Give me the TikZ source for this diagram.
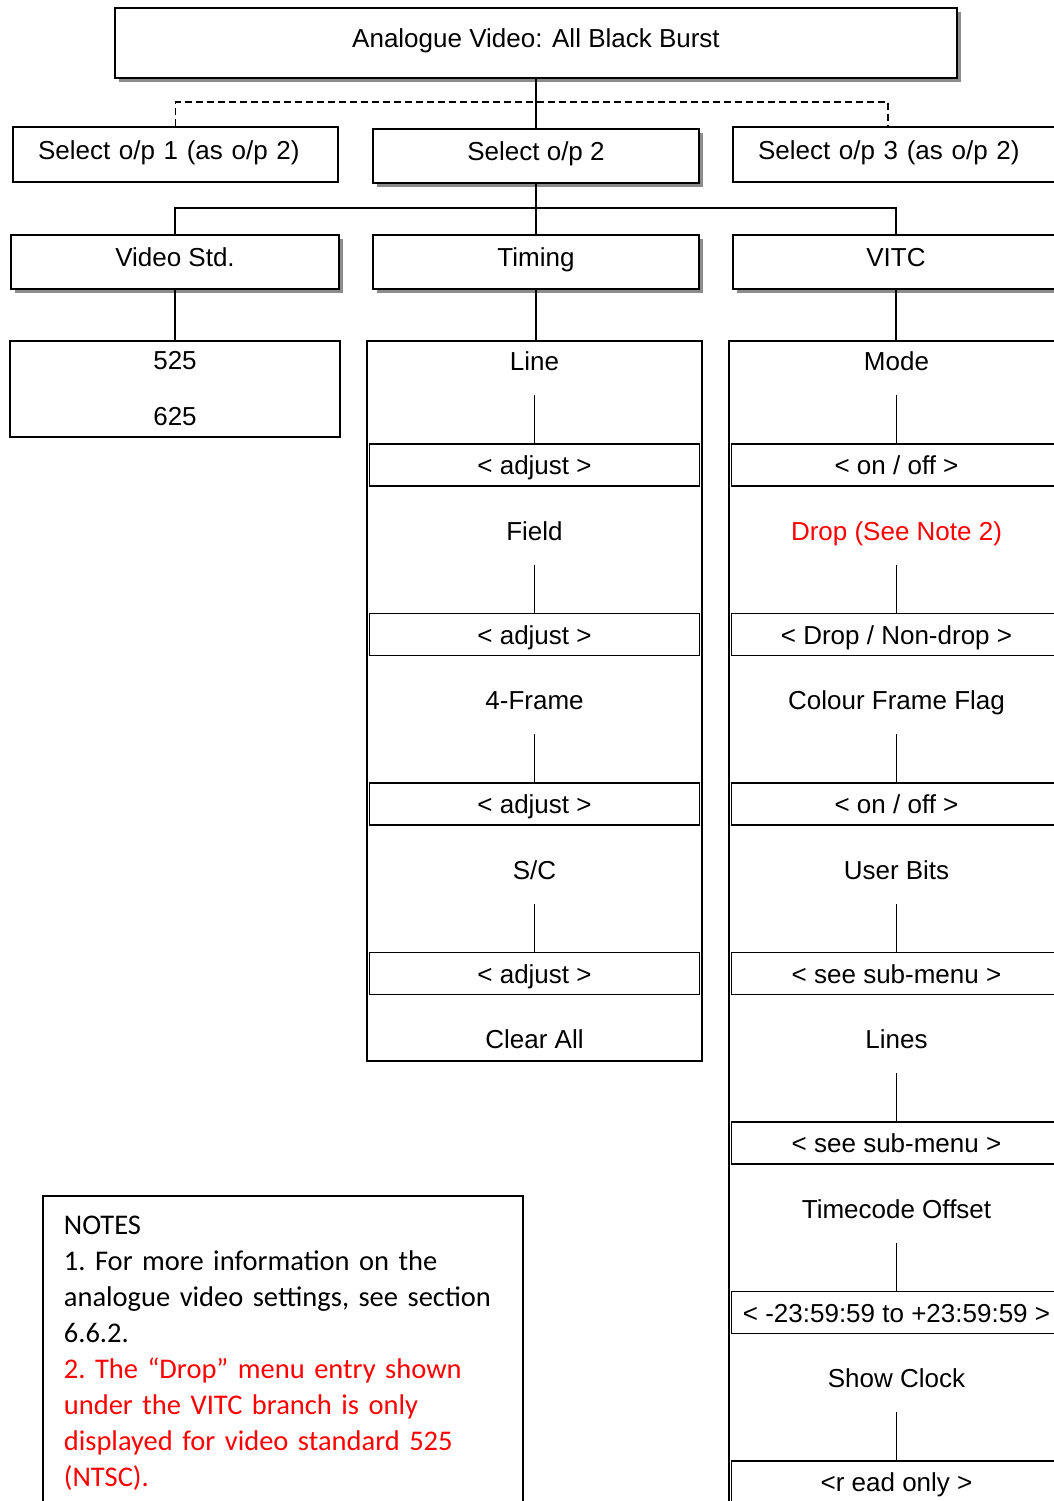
\documentclass[tikz,border=0pt]{standalone}
\usepackage{fontspec}
\setmainfont{Liberation Sans}
\newfontfamily\notefont{Carlito}
\usepackage{tikz}
\usetikzlibrary{shapes,arrows,positioning,calc,shadows}

\begin{document}
\begin{tikzpicture}[x=1pt, y=1pt, node distance=169.5pt, every node/.style={align=center, font=\fontsize{26}{31}\selectfont}]
        % node styles
        \tikzstyle{menubox} = [rectangle, minimum width=325pt, minimum height=55pt, inner sep=0pt, draw=black, line width=1.8pt, fill=white]
        \tikzstyle{raised} = [text height=19pt, text depth=10pt]
        \tikzstyle{shadowbox} = [menubox, raised, drop shadow={shadow xshift=4pt, shadow yshift=-4pt, fill=black!45, opacity=1}]
        \tikzstyle{sidebox} = [menubox, raised, text width=275pt, inner xsep=25pt, align=left]
        \tikzstyle{column} = [rectangle, minimum width=335pt, inner sep=0pt, draw=black, line width=1.8pt]
        \tikzstyle{item} = [minimum height=68pt, inner sep=0pt, text height=19pt, text depth=0pt]
        \tikzstyle{setbox} = [rectangle, minimum width=330pt, minimum height=42pt, inner sep=0pt, text height=25pt, text depth=5.5pt, draw=black, line width=1.8pt]
        \tikzstyle{link} = [line width=1.5pt]

        \useasboundingbox (0,0) rectangle (1054,-1501);
        \clip (0,0) rectangle (1054,-1501);

        % top levels
        \node (title) [shadowbox, minimum width=842pt, minimum height=70pt] at (536,-43) {Analogue Video: All Black Burst};
        \node (sel1) [sidebox] at (175.5,-154.5) {Select o/p 1 (as o/p 2)};
        \node (sel2) [shadowbox, minimum width=326pt, minimum height=54pt] at (536,-156) {Select o/p 2};
        \node (sel3) [sidebox] at (895.5,-154.5) {Select o/p 3 (as o/p 2)};
        \node (vstd) [shadowbox, minimum width=328pt, minimum height=54pt] at (175,-262) {Video Std.};
        \node (timing) [shadowbox, minimum width=326pt, minimum height=54pt] at (536,-262) {Timing};
        \node (vitc) [shadowbox, minimum width=326pt, minimum height=54pt] at (896,-262) {VITC};

        % option lists
        \node (std) [menubox, minimum width=330pt, minimum height=96pt, fill=none] at (175,-389) {525\\[25pt]625};
        \node (tcol) [column, minimum height=720pt] at (534.5,-701) {};
        \node (vcol) [column, minimum height=1190pt] at (896.5,-936) {};

        % timing menu
        \node (line) [item] at (534.5,-361) {Line};
        \node (ladj) [setbox, node distance=104pt, below of=line] {< adjust >};
        \node (field) [item, below of=line] {Field};
        \node (fadj) [setbox, node distance=104pt, below of=field] {< adjust >};
        \node (frame) [item, below of=field] {4-Frame};
        \node (fradj) [setbox, node distance=104pt, below of=frame] {< adjust >};
        \node (sc) [item, below of=frame] {S/C};
        \node (scadj) [setbox, node distance=104pt, below of=sc] {< adjust >};
        \node (clear) [item, below of=sc] {Clear All};

        % VITC menu
        \node (mode) [item] at (896.5,-361) {Mode};
        \node (modeset) [setbox, node distance=104pt, below of=mode] {< on / off >};
        \node (drop) [item, below of=mode] {\color{red}Drop (See Note 2)};
        \node (dropset) [setbox, node distance=104pt, below of=drop] {< Drop / Non-drop >};
        \node (cff) [item, below of=drop] {Colour Frame Flag};
        \node (cffset) [setbox, node distance=104pt, below of=cff] {< on / off >};
        \node (ubits) [item, below of=cff] {User Bits};
        \node (ubitsset) [setbox, node distance=104pt, below of=ubits] {< see sub-menu >};
        \node (lines) [item, below of=ubits] {Lines};
        \node (linesset) [setbox, node distance=104pt, below of=lines] {< see sub-menu >};
        \node (offset) [item, below of=lines] {Timecode Offset};
        \node (offsetset) [setbox, node distance=104pt, below of=offset] {< -23:59:59 to +23:59:59 >};
        \node (clock) [item, below of=offset] {Show Clock};
        \node (clockset) [setbox, node distance=104pt, below of=clock] {<r ead only >};

        % notes
        \node (notes) [rectangle, draw=black, line width=1.8pt, anchor=north west, text width=438pt, inner xsep=21pt, inner ysep=20pt, align=left, font=\notefont\fontsize{28.5}{36}\selectfont\frenchspacing] at (42,-1195)
            {NOTES\\
             1. For more information on the\\
             analogue video settings, see section\\
             6.6.2.\\
             \color{red}2. The “Drop” menu entry shown\\
             \color{red}under the VITC branch is only\\
             \color{red}displayed for video standard 525\\
             \color{red}(NTSC).};

        % connectors
        \draw [link] (title) -- (sel2);
        \draw [link, dash pattern=on 7pt off 4pt] (sel1.north) -- ++(0,24) -| ($(sel3.north)+(-7.5,0)$);
        \draw [link] (sel2) -- (timing);
        \draw [link] (vstd.north) -- ++(0,26) -| (vitc.north);
        \draw [link] (vstd) -- (std);
        \draw [link] (timing.south) -- (timing.south |- tcol.north);
        \draw [link] (vitc.south) -- (vitc.south |- vcol.north);
        \draw [link] (line) -- (ladj);
        \draw [link] (field) -- (fadj);
        \draw [link] (frame) -- (fradj);
        \draw [link] (sc) -- (scadj);
        \draw [link] (mode) -- (modeset);
        \draw [link] (drop) -- (dropset);
        \draw [link] (cff) -- (cffset);
        \draw [link] (ubits) -- (ubitsset);
        \draw [link] (lines) -- (linesset);
        \draw [link] (offset) -- (offsetset);
        \draw [link] (clock) -- (clockset);
    \end{tikzpicture}
\end{document}
